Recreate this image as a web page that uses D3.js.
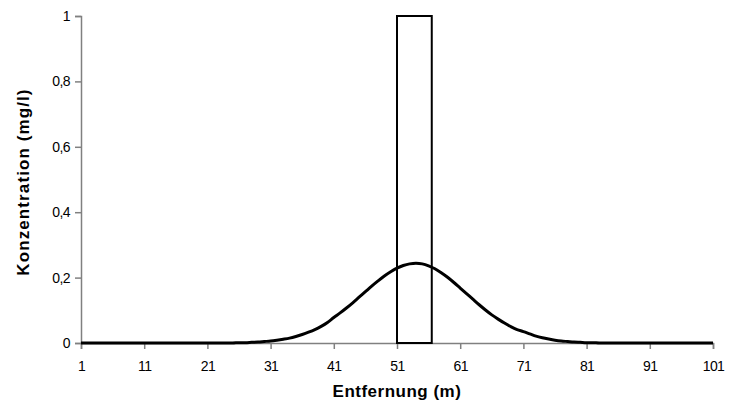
<!DOCTYPE html>
<html>
<head>
<meta charset="utf-8">
<script src="https://cdn.jsdelivr.net/npm/d3@7"></script>
<style>
  body { margin: 0; background: #fff; }
  .tick text { font-family: "Liberation Sans", Arial, sans-serif; font-size: 14px; letter-spacing: -0.6px; fill: #000; }
  .title { font-family: "Liberation Sans", Arial, sans-serif; font-size: 17px; font-weight: bold; }
</style>
</head>
<body>
<div id="chart"></div>
<script>
// Entfernung (m), 1..101
const distances = d3.range(1, 102);
// Konzentration (mg/l) per meter
const concentration = [
  0, 0, 0, 0, 0, 0, 0, 0, 0, 0,
  0, 0, 0, 0, 0, 0, 0, 0, 0, 0,
  0, 0, 0, 0, 0, 0.001, 0.001, 0.002, 0.003, 0.0045,
  0.006, 0.0085, 0.0115, 0.015, 0.020, 0.026, 0.033, 0.041, 0.051, 0.063,
  0.078, 0.092, 0.107, 0.123, 0.140, 0.157, 0.174, 0.190, 0.205, 0.218,
  0.229, 0.237, 0.242, 0.244, 0.242, 0.236, 0.227, 0.215, 0.201, 0.185,
  0.168, 0.151, 0.134, 0.117, 0.101, 0.086, 0.073, 0.061, 0.050, 0.041,
  0.035, 0.028, 0.021, 0.016, 0.012, 0.0085, 0.006, 0.0045, 0.003, 0.002,
  0.001, 0.001, 0, 0, 0, 0, 0, 0, 0, 0,
  0, 0, 0, 0, 0, 0, 0, 0, 0, 0,
  0
];
// Source zone box: from/to distance and height
const boxRange = [51, 56.5];
const boxHeight = 1;

const xTicks = [1, 11, 21, 31, 41, 51, 61, 71, 81, 91, 101];
const yTicks = [0, 0.2, 0.4, 0.6, 0.8, 1];

const width = 731, height = 414;
const margin = { top: 16, right: 18, bottom: 71, left: 81 };

const svg = d3.select('#chart').append('svg')
  .attr('width', width)
  .attr('height', height);

const x = d3.scaleLinear()
  .domain([1, 101])
  .range([margin.left, width - margin.right]);

const y = d3.scaleLinear()
  .domain([0, 1])
  .range([height - margin.bottom, margin.top]);

const fmt = d => d3.format('.1~f')(d).replace('.', ',');

const xAxis = svg.append('g')
  .attr('transform', `translate(0,${y(0)})`)
  .call(d3.axisBottom(x).tickValues(xTicks).tickSize(6).tickPadding(12).tickFormat(d3.format('d')));

const yAxis = svg.append('g')
  .attr('transform', `translate(${x(1)},0)`)
  .call(d3.axisLeft(y).tickValues(yTicks).tickSize(6).tickPadding(5).tickFormat(fmt));

[xAxis, yAxis].forEach(g => {
  g.select('.domain').attr('stroke', '#808080').attr('stroke-width', 1.5);
  g.selectAll('.tick line').attr('stroke', '#808080').attr('stroke-width', 1.5);
});

svg.append('rect')
  .attr('x', x(boxRange[0]))
  .attr('y', y(boxHeight))
  .attr('width', x(boxRange[1]) - x(boxRange[0]))
  .attr('height', y(0) - y(boxHeight))
  .attr('fill', 'none')
  .attr('stroke', '#000')
  .attr('stroke-width', 2);

const line = d3.line()
  .x((d, i) => x(distances[i]))
  .y(d => y(d))
  .curve(d3.curveMonotoneX);

svg.append('path')
  .datum(concentration)
  .attr('d', line)
  .attr('fill', 'none')
  .attr('stroke', '#000')
  .attr('stroke-width', 3);

svg.append('text')
  .attr('class', 'title')
  .attr('x', (x(1) + x(101)) / 2)
  .attr('y', 397)
  .attr('text-anchor', 'middle')
  .style('letter-spacing', '0.5px')
  .text('Entfernung (m)');

svg.append('text')
  .attr('class', 'title')
  .attr('transform', `translate(29,182) rotate(-90)`)
  .attr('text-anchor', 'middle')
  .style('letter-spacing', '1.1px')
  .text('Konzentration (mg/l)');
</script>
</body>
</html>
